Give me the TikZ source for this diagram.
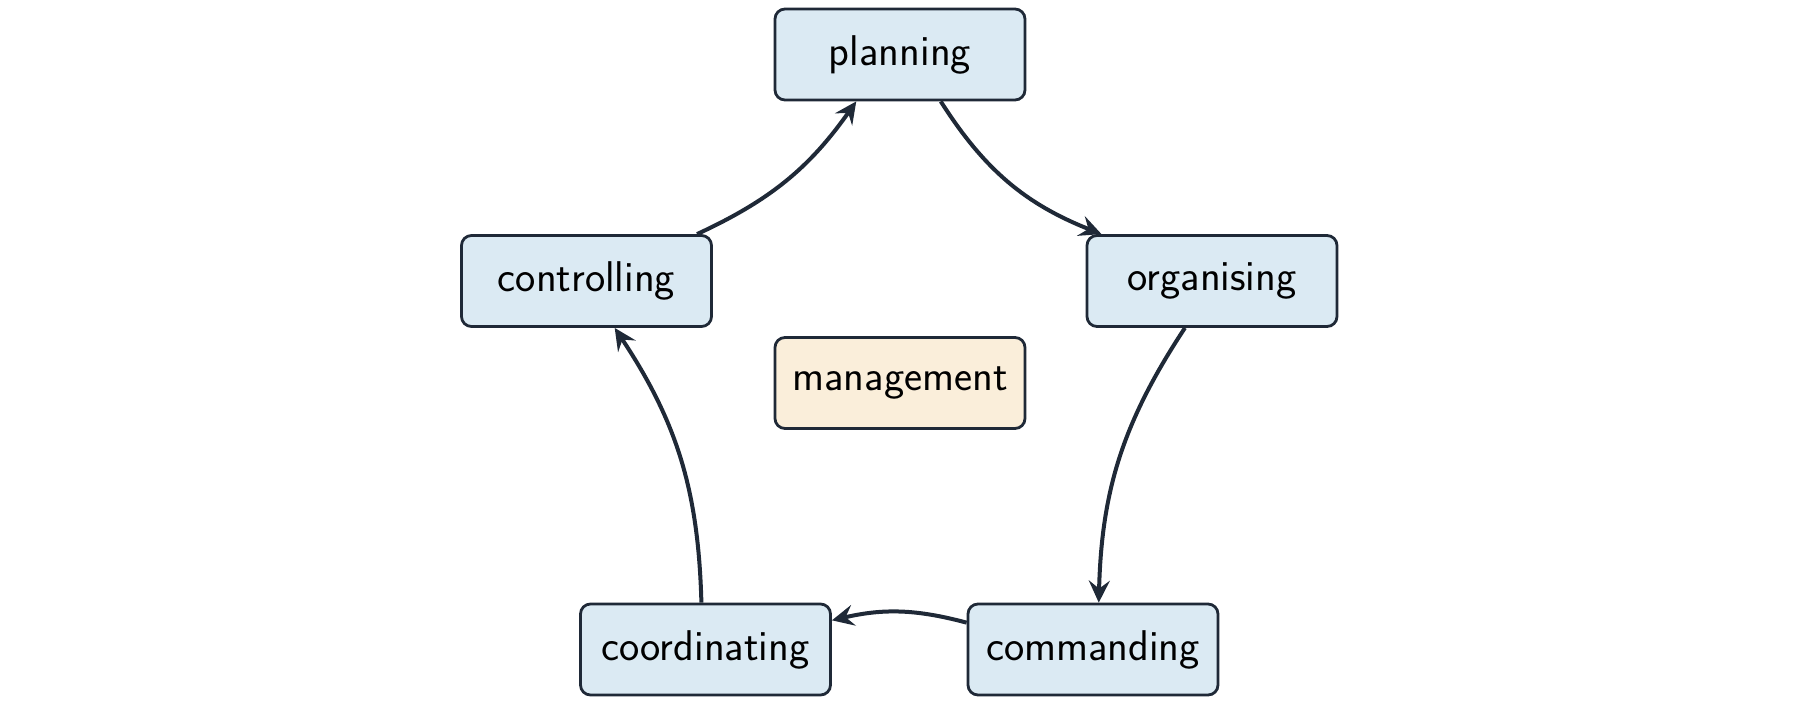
\documentclass[tikz,border=0pt]{standalone}
\usetikzlibrary{arrows.meta}
\definecolor{nodeblue}{HTML}{DBEAF3}
\definecolor{nodecream}{HTML}{FAEEDA}
\definecolor{ink}{HTML}{1F2937}
\begin{document}
\begin{tikzpicture}[x=1pt,y=-1pt,
  box/.style={draw=ink, line width=2.8pt, rounded corners=10pt, fill=nodeblue,
    minimum width=250pt, minimum height=91pt, inner sep=0pt,
    font=\sffamily\fontsize{43}{52}\selectfont, text=black},
  centrebox/.style={box, fill=nodecream},
  link/.style={draw=ink, line width=4pt, -{Stealth[length=22pt,width=21pt,inset=8pt]}}]
\useasboundingbox (0,0) rectangle (1800,705);
\node[box] (planning) at (900,54.5) {planning};
\node[box] (controlling) at (586.5,281) {controlling};
\node[box] (organising) at (1212,281) {organising};
\node[centrebox] (management) at (900,383) {management};
\node[box] (coordinating) at (705.5,649.5) {coordinating};
\node[box] (commanding) at (1093,649.5) {commanding};
\draw[link] (controlling.23) to[bend right=15] (planning.227);
\draw[link] (planning.-49) to[bend right=18] (organising.157);
\draw[link] (organising.-120) to[bend right=16] (commanding.83);
\draw[link] (commanding.168) to[bend right=14] (coordinating.13);
\draw[link] (coordinating.95) to[bend right=16] (controlling.-59);
\end{tikzpicture}
\end{document}
